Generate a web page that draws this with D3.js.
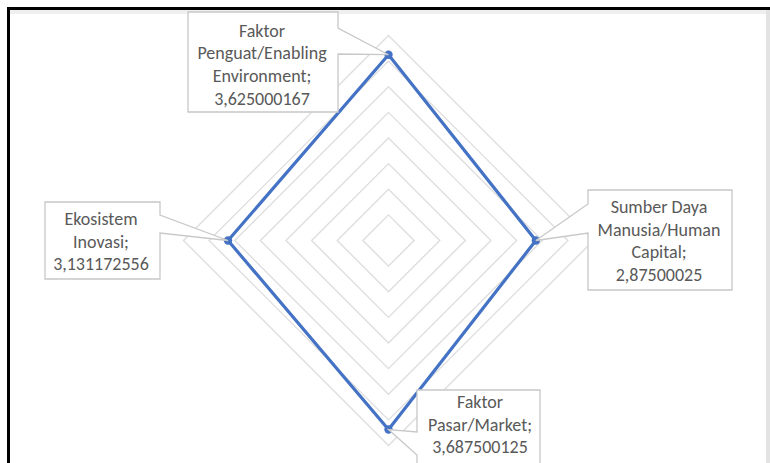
<!DOCTYPE html>
<html>
<head>
<meta charset="utf-8">
<script src="https://cdn.jsdelivr.net/npm/d3@7"></script>
<style>
  html, body { margin: 0; padding: 0; background: #fff; }
  svg { display: block; }
</style>
</head>
<body>
<svg id="chart" width="770" height="463"></svg>
<script>
// ---- Data ----
const categories = [
  "Faktor Penguat/Enabling Environment",
  "Sumber Daya Manusia/Human Capital",
  "Faktor Pasar/Market",
  "Ekosistem Inovasi"
];
const values = [3.625000167, 2.87500025, 3.687500125, 3.131172556];
const valueLabels = ["3,625000167", "2,87500025", "3,687500125", "3,131172556"];
// how each category label is broken into lines
const categoryLines = [
  ["Faktor", "Penguat/Enabling", "Environment;"],
  ["Sumber Daya", "Manusia/Human", "Capital;"],
  ["Faktor", "Pasar/Market;"],
  ["Ekosistem", "Inovasi;"]
];
const ringTicks = [0.5, 1, 1.5, 2, 2.5, 3, 3.5, 4];

// ---- Layout ----
const W = 770, H = 463;
const cx = 388.5, cy = 240.5, R = 205;
// callout boxes: rect + side of wedge + wedge y-range + first baseline
const callouts = [
  { x: 188, y: 12,  w: 150, h: 100, side: "right", w0: 28,  w1: 54,  line0: 36.5, tx: 262 },
  { x: 588, y: 190, w: 144, h: 100, side: "left",  w0: 204, w1: 233, line0: 213,  tx: 659 },
  { x: 417, y: 390, w: 123, h: 100, side: "left",  w0: 432, w1: 455, line0: 408,  tx: 480 },
  { x: 45,  y: 202, w: 115, h: 77,  side: "right", w0: 215, w1: 233, line0: 225,  tx: 101 }
];
const lineH = 22.7;

const svg = d3.select("#chart");

// frame
svg.append("rect").attr("x", 0).attr("y", 0).attr("width", W).attr("height", H).attr("fill", "#fff");
svg.append("rect").attr("x", 10).attr("y", 10).attr("width", W - 10).attr("height", 4).attr("fill", "#efefef");
svg.append("rect").attr("x", 766).attr("y", 10).attr("width", 4).attr("height", H - 10).attr("fill", "#e3e3e3");
svg.append("line").attr("x1", 7).attr("x2", W).attr("y1", 8.5).attr("y2", 8.5)
  .attr("stroke", "#000").attr("stroke-width", 3);
svg.append("line").attr("x1", 8.5).attr("x2", 8.5).attr("y1", 7).attr("y2", H)
  .attr("stroke", "#000").attr("stroke-width", 3);

const r = d3.scaleLinear().domain([0, 4]).range([0, R]);
const angle = d3.scalePoint().domain(d3.range(categories.length)).range([0, 2 * Math.PI * (categories.length - 1) / categories.length]);

const g = svg.append("g").attr("transform", `translate(${cx},${cy})`);
const radial = d3.lineRadial().angle((d, i) => angle(i)).radius(d => r(d)).curve(d3.curveLinearClosed);

// grid rings
g.selectAll(".ring").data(ringTicks).enter().append("path")
  .attr("d", t => radial(categories.map(() => t)))
  .attr("fill", "none").attr("stroke", "#dedede").attr("stroke-width", 1.4);

// series
g.append("path").attr("d", radial(values))
  .attr("fill", "none").attr("stroke", "#4472c4").attr("stroke-width", 3.2)
  .attr("stroke-linejoin", "round");

const pts = values.map((v, i) => {
  const a = angle(i);
  return [cx + r(v) * Math.sin(a), cy - r(v) * Math.cos(a)];
});

svg.selectAll(".dot").data(pts).enter().append("circle")
  .attr("cx", d => d[0]).attr("cy", d => d[1]).attr("r", 4.2)
  .attr("fill", "#4472c4");

// callouts
callouts.forEach((c, i) => {
  const [px, py] = pts[i];
  let d;
  if (c.side === "right") {
    const ex = c.x + c.w;
    d = `M${c.x},${c.y}H${ex}V${c.w0}L${px},${py}L${ex},${c.w1}V${c.y + c.h}H${c.x}Z`;
  } else {
    d = `M${c.x},${c.y}H${c.x + c.w}V${c.y + c.h}H${c.x}V${c.w1}L${px},${py}L${c.x},${c.w0}Z`;
  }
  svg.append("path").attr("d", d).attr("fill", "#fff").attr("stroke", "#c8c8c8").attr("stroke-width", 1.3);
  const lines = categoryLines[i].concat([valueLabels[i]]);
  const t = svg.append("text").attr("font-family", "Carlito, 'Open Sans', sans-serif")
    .attr("font-size", 18).attr("fill", "#595959").attr("text-anchor", "middle");
  lines.forEach((ln, j) => {
    t.append("tspan").attr("x", c.tx).attr("y", c.line0 + j * lineH).text(ln);
  });
});
</script>
</body>
</html>
